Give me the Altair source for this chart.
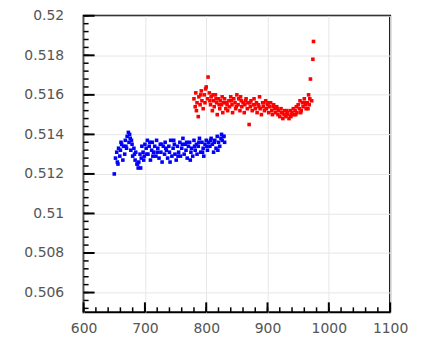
import altair as alt
import pandas as pd

# Blue series
blue_x = [650, 652, 654, 655, 657, 659, 660, 662, 664, 665,
          667, 668, 670, 671, 673, 674, 676, 677, 679, 680,
          682, 684, 685, 687, 689, 690, 692, 694, 695, 697,
          699, 700, 702, 704, 705, 707, 709, 711, 712, 714,
          716, 718, 719, 721, 723, 725, 726, 728, 730, 732,
          733, 735, 737, 739, 740, 742, 744, 746, 748, 749,
          751, 753, 755, 757, 758, 760, 762, 764, 766, 767,
          769, 771, 773, 775, 776, 778, 780, 782, 784, 785,
          787, 789, 791, 793, 795, 796, 798, 800, 802, 804,
          806, 808, 810, 812, 814, 816, 818, 820, 822, 824,
          826, 828, 830,
          656, 661, 669, 675, 678, 683, 688, 693, 698, 703,
          708, 713, 720, 727, 734, 741, 747, 754, 761, 768,
          774, 781, 788, 794, 801, 807, 813, 819, 825, 829]
blue_y = [0.5120, 0.5128, 0.5131, 0.5126, 0.5133, 0.5129, 0.5132, 0.5135, 0.5127, 0.5134,
          0.5130, 0.5137, 0.5133, 0.5139, 0.5141, 0.5136, 0.5138, 0.5132, 0.5135, 0.5129,
          0.5133, 0.5127, 0.5131, 0.5125, 0.5123, 0.5126, 0.5130, 0.5128, 0.5134, 0.5131,
          0.5129, 0.5135, 0.5133, 0.5137, 0.5130, 0.5134, 0.5127, 0.5132, 0.5136, 0.5131,
          0.5134, 0.5129, 0.5137, 0.5133, 0.5128, 0.5135, 0.5131, 0.5126, 0.5134, 0.5130,
          0.5136, 0.5132, 0.5128, 0.5134, 0.5131, 0.5137, 0.5129, 0.5133, 0.5135, 0.5130,
          0.5127, 0.5134, 0.5131, 0.5136, 0.5129, 0.5133, 0.5138, 0.5130, 0.5135, 0.5132,
          0.5128, 0.5134, 0.5136, 0.5131, 0.5133, 0.5129, 0.5137, 0.5132, 0.5135, 0.5130,
          0.5134, 0.5138, 0.5131, 0.5136, 0.5133, 0.5129, 0.5135, 0.5137, 0.5132, 0.5136,
          0.5134, 0.5138, 0.5135, 0.5131, 0.5137, 0.5133, 0.5139, 0.5136, 0.5134, 0.5138,
          0.5137, 0.5139, 0.5136,
          0.5125, 0.5136, 0.5134, 0.5140, 0.5137, 0.5130, 0.5125, 0.5123, 0.5127, 0.5130,
          0.5136, 0.5129, 0.5131, 0.5135, 0.5133, 0.5126, 0.5137, 0.5129, 0.5135, 0.5136,
          0.5127, 0.5134, 0.5136, 0.5131, 0.5134, 0.5137, 0.5136, 0.5132, 0.5140, 0.5139]

# Red series
red_x = [780, 782, 783, 785, 787, 788, 790, 792, 793, 795,
         797, 798, 800, 802, 803, 805, 807, 808, 810, 812,
         813, 815, 817, 818, 820, 822, 823, 825, 827, 828,
         830, 832, 833, 835, 837, 838, 840, 842, 843, 845,
         847, 848, 850, 852, 853, 855, 857, 858, 860, 862,
         863, 865, 867, 868, 870, 872, 873, 875, 877, 878,
         880, 882, 883, 885, 887, 888, 890, 892, 893, 895,
         897, 898, 900, 902, 903, 905, 907, 908, 910, 912,
         913, 915, 917, 918, 920, 922, 923, 925, 927, 928,
         930, 932, 933, 935, 937, 938, 940, 942, 943, 945,
         947, 948, 950, 952, 953, 955, 957, 958, 960, 962,
         963, 965, 967, 968, 970, 972, 974, 975,
         784, 791, 799, 806, 811, 816, 821, 826, 834, 841,
         849, 856, 864, 871, 879, 886, 894, 901, 909, 916,
         924, 931, 939, 946, 954, 961, 966, 969]
red_y = [0.5158, 0.5154, 0.5161, 0.5156, 0.5149, 0.5159, 0.5155, 0.5162, 0.5157, 0.5153,
         0.5160, 0.5156, 0.5164, 0.5158, 0.5169, 0.5161, 0.5155, 0.5159, 0.5152, 0.5157,
         0.5154, 0.5160, 0.5156, 0.5150, 0.5158, 0.5153, 0.5157, 0.5155, 0.5151, 0.5156,
         0.5158, 0.5153, 0.5156, 0.5152, 0.5157, 0.5154, 0.5159, 0.5155, 0.5151, 0.5158,
         0.5156, 0.5153, 0.5160, 0.5155, 0.5158, 0.5152, 0.5157, 0.5154, 0.5156, 0.5151,
         0.5155, 0.5158, 0.5153, 0.5156, 0.5145, 0.5154, 0.5157, 0.5152, 0.5155, 0.5158,
         0.5153, 0.5156, 0.5151, 0.5155, 0.5159, 0.5153, 0.5150, 0.5156, 0.5154, 0.5152,
         0.5157, 0.5153, 0.5155, 0.5151, 0.5154, 0.5156, 0.5152, 0.5150, 0.5155, 0.5153,
         0.5151, 0.5154, 0.5150, 0.5152, 0.5149, 0.5153, 0.5151, 0.5148, 0.5150, 0.5152,
         0.5149, 0.5151, 0.5150, 0.5148, 0.5152, 0.5149, 0.5151, 0.5153, 0.5150, 0.5152,
         0.5154, 0.5151, 0.5155, 0.5153, 0.5157, 0.5152, 0.5156, 0.5154, 0.5158, 0.5155,
         0.5153, 0.5156, 0.5160, 0.5155, 0.5168, 0.5157, 0.5178, 0.5187,
         0.5152, 0.5160, 0.5163, 0.5157, 0.5160, 0.5158, 0.5155, 0.5159, 0.5155, 0.5157,
         0.5154, 0.5159, 0.5157, 0.5156, 0.5155, 0.5154, 0.5156, 0.5156, 0.5154, 0.5153,
         0.5151, 0.5152, 0.5150, 0.5150, 0.5151, 0.5156, 0.5153, 0.5158]

x_ticks = [600, 700, 800, 900, 1000, 1100]
y_ticks = [0.506, 0.508, 0.51, 0.512, 0.514, 0.516, 0.518, 0.52]

x_minor = [600 + 20 * i for i in range(26)]
y_minor = [round(0.5048 + 0.0004 * i, 4) for i in range(40)]
y_minor = [v for v in y_minor if 0.505 <= v <= 0.52]

df = pd.DataFrame({
    "x": blue_x + red_x,
    "y": blue_y + red_y,
    "s": ["blue"] * len(blue_x) + ["red"] * len(red_x),
})

W, H = 308, 298
xs = alt.Scale(domain=[600, 1100], nice=False, zero=False)
ys = alt.Scale(domain=[0.505, 0.52], nice=False, zero=False)
xaxis = alt.Axis(values=x_ticks, format="d", ticks=False, domain=False,
                 labelPadding=9, labelFlush=False, labelOverlap=False,
                 gridColor="#e6e6e6", title=None)
yaxis = alt.Axis(values=y_ticks, format="~g", ticks=False, domain=False,
                 labelPadding=20, labelFlush=False, labelOverlap=False,
                 gridColor="#e6e6e6", title=None)

points = alt.Chart(df).mark_square(size=13, opacity=1).encode(
    x=alt.X("x:Q", scale=xs, axis=xaxis),
    y=alt.Y("y:Q", scale=ys, axis=yaxis),
    color=alt.Color("s:N", scale=alt.Scale(domain=["blue", "red"], range=["#0000ff", "#ff0000"]), legend=None),
)

ymaj = alt.Chart(pd.DataFrame({"v": y_ticks})).mark_rule(color="black", strokeWidth=2).encode(
    y=alt.Y("v:Q", scale=ys, axis=yaxis), x=alt.value(0), x2=alt.value(11))
ymin = alt.Chart(pd.DataFrame({"v": y_minor})).mark_rule(color="black", strokeWidth=1.5).encode(
    y=alt.Y("v:Q", scale=ys, axis=yaxis), x=alt.value(0), x2=alt.value(5))
xmaj = alt.Chart(pd.DataFrame({"v": x_ticks})).mark_rule(color="black", strokeWidth=2).encode(
    x=alt.X("v:Q", scale=xs, axis=xaxis), y=alt.value(H), y2=alt.value(H - 10))
xmin = alt.Chart(pd.DataFrame({"v": x_minor})).mark_rule(color="black", strokeWidth=1.5).encode(
    x=alt.X("v:Q", scale=xs, axis=xaxis), y=alt.value(H), y2=alt.value(H - 5))

chart = alt.layer(points, ymaj, ymin, xmaj, xmin).properties(
    width=W, height=H,
    autosize=alt.AutoSizeParams(type="none"),
    padding={"left": 76, "top": 7, "right": 25, "bottom": 24},
    background="white",
).configure_view(stroke="black", strokeWidth=2).configure_axis(
    labelFont="DejaVu Sans", labelFontSize=14, labelColor="#555555",
)

chart.save("out.html", embed_options={"renderer": "svg", "actions": False})
